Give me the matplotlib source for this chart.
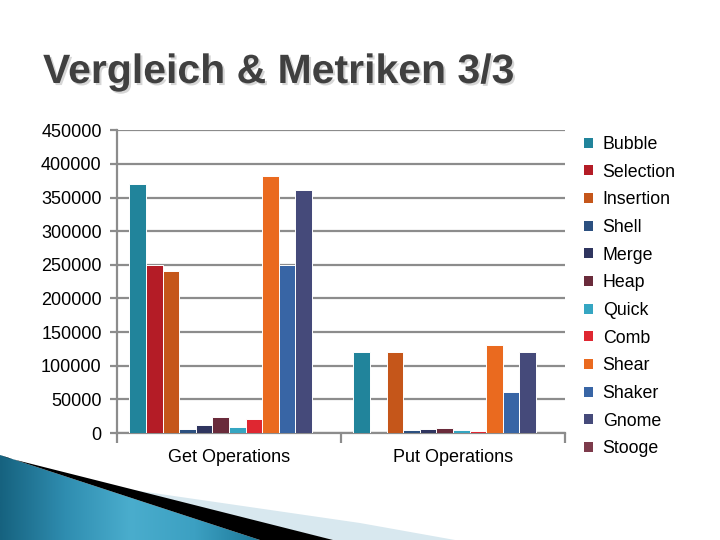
import matplotlib
matplotlib.use('Agg')
import matplotlib.pyplot as plt
import numpy as np
from matplotlib.patches import Polygon, Patch
from matplotlib.colors import LinearSegmentedColormap
import matplotlib.patheffects as pe

plt.rcParams['font.family'] = ['Liberation Sans', 'DejaVu Sans']

# ---------------- data ----------------
categories = ['Get Operations', 'Put Operations']
series = ['Bubble', 'Selection', 'Insertion', 'Shell', 'Merge', 'Heap',
          'Quick', 'Comb', 'Shear', 'Shaker', 'Gnome', 'Stooge']
get_values = [370000, 250000, 241000, 6500, 12000, 24000,
              9000, 21000, 382000, 250000, 362000, 0]
put_values = [120000, 0, 120000, 4000, 6000, 8000,
              4000, 2500, 131000, 61000, 120000, 0]
colors = ['#21849B', '#B41C26', '#C5561A', '#2C5080', '#2F355F', '#6A2B3B',
          '#35A6C2', '#DF2731', '#EA6A1F', '#3865A5', '#454A7A', '#7D3B4B']
yticks = list(range(0, 450001, 50000))
title = 'Vergleich & Metriken 3/3'

# ---------------- figure ----------------
fig = plt.figure(figsize=(7.2, 5.4), dpi=100)
fig.patch.set_facecolor('white')

# decorative background (pixel coordinates)
bg = fig.add_axes([0, 0, 1, 1], zorder=0)
bg.set_xlim(0, 720)
bg.set_ylim(540, 0)
bg.axis('off')

light = Polygon([(105, 486), (360, 523), (455, 540), (333, 540)],
                closed=True, facecolor='#D8E8EF', edgecolor='none')
bg.add_patch(light)
blue_poly = Polygon([(0, 455), (260, 540), (0, 540)], closed=True,
                    facecolor='none', edgecolor='none')
bg.add_patch(blue_poly)
cmap = LinearSegmentedColormap.from_list(
    'b', ['#16627F', '#2F8DB0', '#4AADCD', '#3CA0C2', '#1C7898'])
grad = np.linspace(0, 1, 256).reshape(1, -1)
im = bg.imshow(grad, cmap=cmap, extent=(0, 260, 540, 455), aspect='auto')
im.set_clip_path(blue_poly)
black = Polygon([(8, 458), (333, 540), (260, 540), (0, 455)], closed=True,
                facecolor='black', edgecolor='none')
bg.add_patch(black)
bg.set_xlim(0, 720)
bg.set_ylim(540, 0)

# title
fig.text(43 / 720, 1 - 83 / 540, title, fontsize=29.5, fontweight='bold',
         color='#404040', va='baseline', ha='left',
         path_effects=[pe.withSimplePatchShadow(offset=(1.5, -1.5),
                                                shadow_rgbFace='#9A9A9A',
                                                alpha=0.4)])

# main axes
ax = fig.add_axes([117 / 720, 1 - 433 / 540, 448 / 720, 303 / 540], zorder=1)
ax.patch.set_alpha(0)

x = np.arange(len(categories))
n = len(series)
w = 1 / (n + 1.5)
handles = []
for i, name in enumerate(series):
    off = -0.5 + 0.75 * w + (i + 0.5) * w
    vals = [get_values[i], put_values[i]]
    ax.bar(x + off, vals, w, color=colors[i], edgecolor='white',
           linewidth=0.7, zorder=3)
    handles.append(Patch(facecolor=colors[i], edgecolor='none', label=name))

ax.set_xlim(-0.5, 1.5)
ax.set_ylim(0, 450500)
ax.set_yticks(yticks)
ax.set_yticklabels([str(v) for v in yticks])
ax.yaxis.grid(True, color='#8C8C8C', linewidth=1.6, zorder=0)
ax.set_axisbelow(True)
for s in ['top', 'right']:
    ax.spines[s].set_visible(False)
for s in ['left', 'bottom']:
    ax.spines[s].set_color('#8C8C8C')
    ax.spines[s].set_linewidth(1.6)

ax.tick_params(axis='y', direction='out', length=5, width=1.6,
               color='#8C8C8C', labelsize=13, pad=6, labelcolor='black')
ax.set_xticks(x)
ax.set_xticklabels(categories)
ax.set_xticks([-0.5, 0.5, 1.5], minor=True)
ax.tick_params(axis='x', which='major', length=0, labelsize=13, pad=11.5,
               labelcolor='black')
ax.tick_params(axis='x', which='minor', direction='out', length=7, width=1.6,
               color='#8C8C8C')

leg = fig.legend(handles=handles, loc='upper left',
                 bbox_to_anchor=(584 / 720, 1 - 136 / 540),
                 frameon=False, fontsize=12.8, borderpad=0, borderaxespad=0,
                 handlelength=0.5, handleheight=0.5, handletextpad=0.55,
                 labelspacing=0.6)

fig.savefig('out.png', dpi=100)
